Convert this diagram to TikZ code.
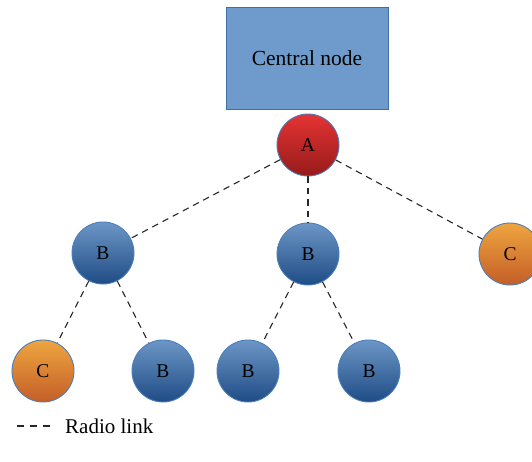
\documentclass[tikz,border=0pt]{standalone}
\usepackage{fontspec}
\setmainfont{Liberation Serif}
\begin{document}
\begin{tikzpicture}[x=1pt,y=-1pt,
  radio/.style={dashed, dash pattern=on 6.5pt off 5pt, line width=1.1pt, black!85},
  circ/.style={circle, minimum size=62pt, inner sep=0pt, draw=borderblue, line width=0.9pt, font=\fontsize{19.5}{22}\selectfont},
  bnode/.style={circ, top color=bTop, bottom color=bBot},
  cnode/.style={circ, top color=cTop, bottom color=cBot},
  anode/.style={circ, top color=aTop, bottom color=aBot},
  central/.style={rectangle, draw=cBorder, fill=cFill, line width=1pt, minimum width=162pt, minimum height=102pt, font=\fontsize{21.5}{24}\selectfont}
]
\definecolor{borderblue}{HTML}{4A7EBB}
\definecolor{bTop}{HTML}{6D96C6}
\definecolor{bBot}{HTML}{1E4C85}
\definecolor{cTop}{HTML}{EEA53F}
\definecolor{cBot}{HTML}{C45E28}
\definecolor{aTop}{HTML}{E53434}
\definecolor{aBot}{HTML}{961A1A}
\definecolor{cFill}{HTML}{6E9BCB}
\definecolor{cBorder}{HTML}{3E6FA8}
\useasboundingbox (0,0) rectangle (532,461);

\node[central] (cn) at (307,58) {Central node};
\node[anode] (a) at (308,145) {A};
\node[bnode] (b1) at (103,253) {B};
\node[bnode] (b2) at (308,254) {B};
\node[cnode] (c1) at (510,254) {C};
\node[cnode] (c2) at (43,371) {C};
\node[bnode] (b3) at (163,371) {B};
\node[bnode] (b4) at (248,371) {B};
\node[bnode] (b5) at (369,371) {B};

\draw[radio] (a) -- (b1);
\draw[radio] (a) -- (b2);
\draw[radio] (a) -- (c1);
\draw[radio] (b1) -- (c2);
\draw[radio] (b1) -- (b3);
\draw[radio] (b2) -- (b4);
\draw[radio] (b2) -- (b5);

\node[anchor=west, inner sep=0pt, font=\fontsize{21}{24}\selectfont] (leg) at (65,426) {Radio link};
\coordinate (ls) at (17,426);
\coordinate (le) at (50,426);
\draw[radio, dash pattern=on 7pt off 6pt] (ls) -- (le);
\end{tikzpicture}
\end{document}
